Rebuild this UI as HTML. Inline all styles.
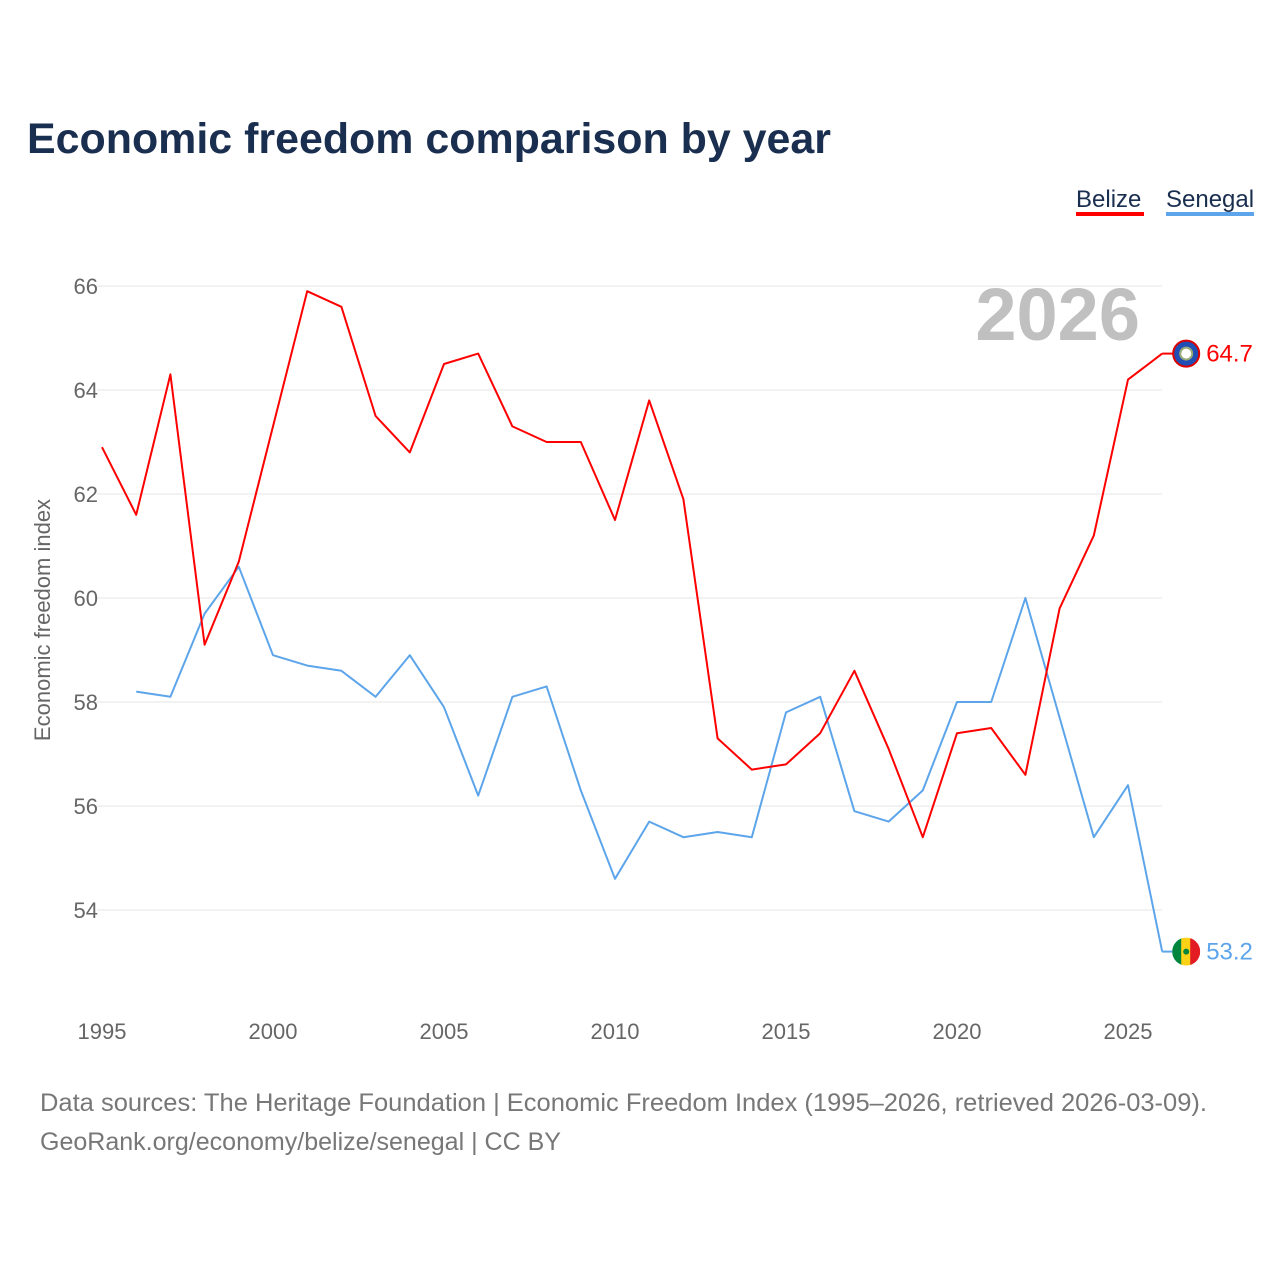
<!DOCTYPE html>
<html><head><meta charset="utf-8">
<style>
body{margin:0;background:#fff;font-family:"Liberation Sans",sans-serif;}
svg text{font-family:"Liberation Sans",sans-serif;}
</style></head>
<body>
<svg id="chart" width="1280" height="1280" viewBox="0 0 1280 1280">
<defs><clipPath id="snclip"><circle id="snc" cx="0" cy="0" r="14"/></clipPath></defs>
<text x="27" y="153" font-size="43" font-weight="bold" fill="#1a2e4f" textLength="804" lengthAdjust="spacingAndGlyphs">Economic freedom comparison by year</text>
<g>
<text x="1076" y="207" font-size="24" fill="#1a2e4f">Belize</text>
<rect x="1076" y="212" width="68" height="4" fill="#ff0000"/>
<text x="1166" y="207" font-size="24" fill="#1a2e4f">Senegal</text>
<rect x="1166" y="212" width="88" height="4" fill="#5da5ea"/>
</g>
<text x="1140" y="340" font-size="74" font-weight="bold" fill="#c0c0c0" text-anchor="end">2026</text>
<g id="grid"></g>
<g id="xticks"></g>
<g id="series"></g>
<text transform="translate(50,620) rotate(-90)" font-size="22" fill="#666" text-anchor="middle">Economic freedom index</text>
<text x="40" y="1111" font-size="25" fill="#777" textLength="1167" lengthAdjust="spacingAndGlyphs">Data sources: The Heritage Foundation | Economic Freedom Index (1995–2026, retrieved 2026-03-09).</text>
<text x="40" y="1150" font-size="25" fill="#777" textLength="521" lengthAdjust="spacingAndGlyphs">GeoRank.org/economy/belize/senegal | CC BY</text>
</svg>
<script>
const years=[1995,1996,1997,1998,1999,2000,2001,2002,2003,2004,2005,2006,2007,2008,2009,2010,2011,2012,2013,2014,2015,2016,2017,2018,2019,2020,2021,2022,2023,2024,2025,2026];
const belize=[62.9,61.6,64.3,59.1,60.7,63.3,65.9,65.6,63.5,62.8,64.5,64.7,63.3,63.0,63.0,61.5,63.8,61.9,57.3,56.7,56.8,57.4,58.6,57.1,55.4,57.4,57.5,56.6,59.8,61.2,64.2,64.7];
const senegal=[null,58.2,58.1,59.7,60.6,58.9,58.7,58.6,58.1,58.9,57.9,56.2,58.1,58.3,56.3,54.6,55.7,55.4,55.5,55.4,57.8,58.1,55.9,55.7,56.3,58.0,58.0,60.0,57.7,55.4,56.4,53.2];
const yTicks=[54,56,58,60,62,64,66];
const xTicks=[1995,2000,2005,2010,2015,2020,2025];
const NS='http://www.w3.org/2000/svg';
const xs=y=>102+(y-1995)*34.2;
const ys=v=>286+(66-v)*52;
function mk(t,a,p){const e=document.createElementNS(NS,t);for(const k in a)e.setAttribute(k,a[k]);p.appendChild(e);return e;}
const grid=document.getElementById('grid');
yTicks.forEach(v=>{
 const l=mk('line',{x1:97,x2:1162,y1:ys(v),y2:ys(v),stroke:'#e6e6e6','stroke-width':1},grid);
 
 
 const t=mk('text',{x:98,y:ys(v)+8,'font-size':22,fill:'#666','text-anchor':'end'},grid);
 t.textContent=v;
 
 
});
const xt=document.getElementById('xticks');
xTicks.forEach(y=>{
 const t=mk('text',{x:xs(y),y:1039,'font-size':22,fill:'#666','text-anchor':'middle'},xt);
 t.textContent=y;
 
 
});
const sg=document.getElementById('series');
function draw(vals,color,name){
 let d='';vals.forEach((v,i)=>{if(v==null)return;d+=(d?'L':'M')+xs(years[i]).toFixed(1)+','+ys(v).toFixed(1);});
 const p=mk('path',{d:d,fill:'none',stroke:color,'stroke-width':2,'stroke-linejoin':'round'},sg);
 
 
 const last=vals[vals.length-1],lx=xs(years[years.length-1]),ly=ys(last);
 const c=mk('line',{x1:lx,x2:lx+12,y1:ly,y2:ly,stroke:color,'stroke-width':2},sg);
 
 
 if(name==='senegal'){
  const snc=document.getElementById('snc');snc.setAttribute('cx',lx+24);snc.setAttribute('cy',ly);
  const g=mk('g',{'clip-path':'url(#snclip)'},sg);
  
  
  mk('rect',{x:lx+10,y:ly-14,width:10,height:28,fill:'#00853f'},g);
  mk('rect',{x:lx+19,y:ly-14,width:10,height:28,fill:'#fcd116'},g);
  mk('rect',{x:lx+28,y:ly-14,width:10,height:28,fill:'#e31b23'},g);
  mk('circle',{cx:lx+24,cy:ly,r:3,fill:'#00853f'},g);
 }else{
  const f=mk('circle',{cx:lx+24,cy:ly,r:13,fill:'#1f4fb5',stroke:'#d00','stroke-width':2},sg);
  
  
  mk('circle',{cx:lx+24,cy:ly,r:6,fill:'#fff',stroke:'#9a7','stroke-width':2},sg);
 }
 const t=mk('text',{x:lx+44,y:ly+8,'font-size':24,fill:color},sg);
 t.textContent=last.toFixed(1);
 
 
}
draw(senegal,'#5da5ea','senegal');
draw(belize,'#ff0000','belize');
</script>
</body></html>
